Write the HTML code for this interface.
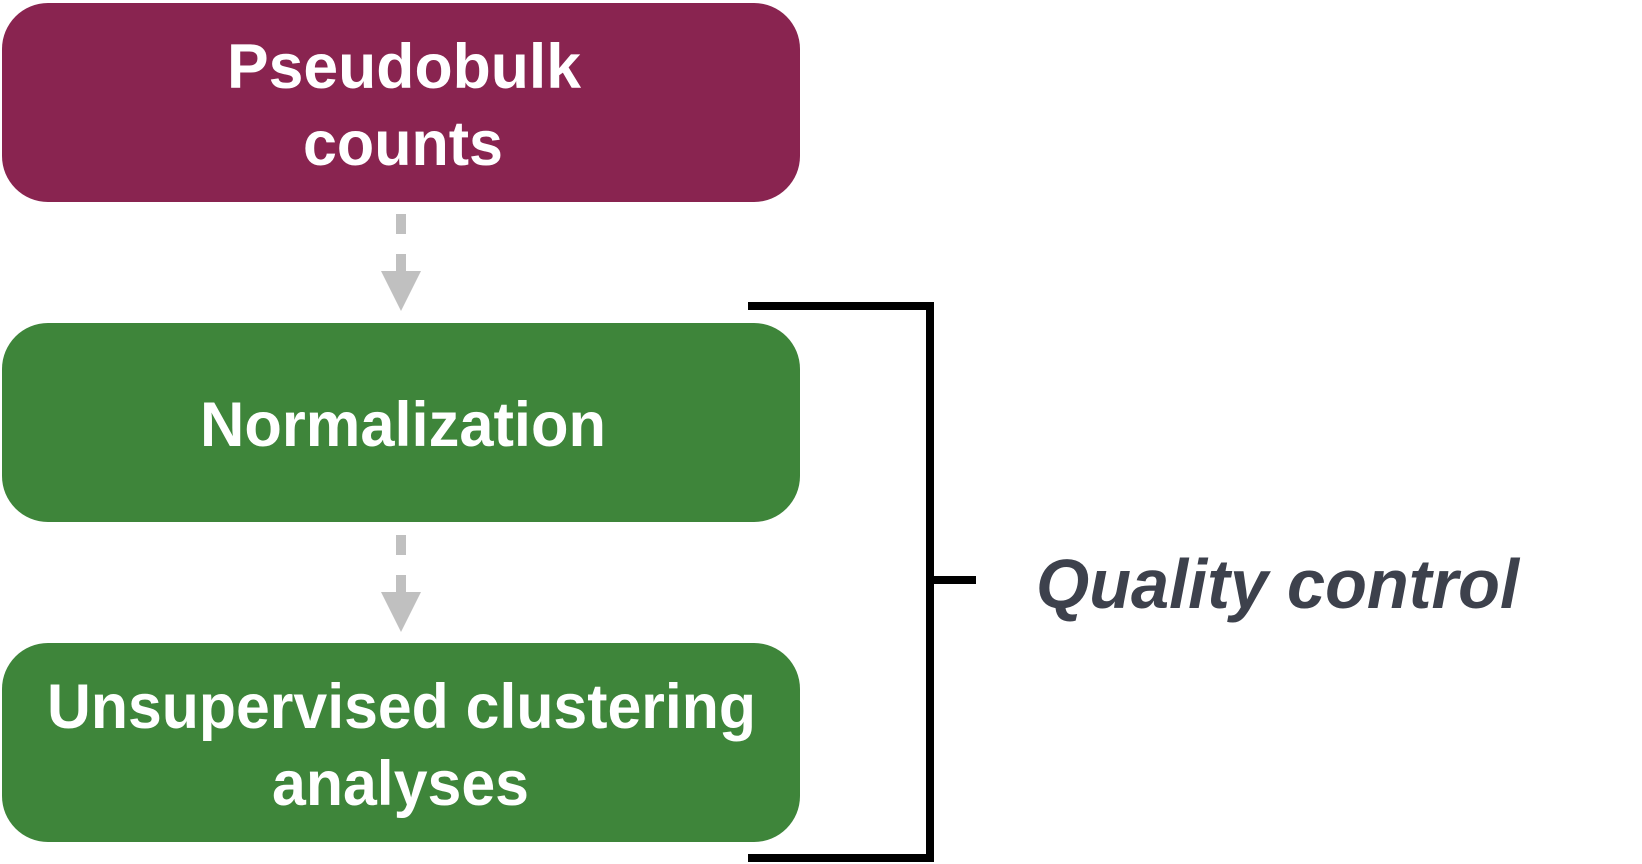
<!DOCTYPE html>
<html><head><meta charset="utf-8"><style>
html,body{margin:0;padding:0;background:#fff;}
svg{display:block;}
</style></head><body>
<svg width="1642" height="864" viewBox="0 0 1642 864" xmlns="http://www.w3.org/2000/svg">
<rect x="2" y="3" width="798" height="199" rx="46" fill="#892450"/>
<rect x="2" y="323" width="798" height="199" rx="46" fill="#3e853a"/>
<rect x="2" y="643" width="798" height="199" rx="46" fill="#3e853a"/>
<g fill="#c0c0c0">
<rect x="396" y="214" width="10" height="20"/>
<rect x="396" y="254" width="10" height="20"/>
<polygon points="381,271 421,271 401,311"/>
<rect x="396" y="535" width="10" height="20"/>
<rect x="396" y="575" width="10" height="20"/>
<polygon points="381,592 421,592 401,632"/>
</g>
<g fill="#000">
<rect x="748" y="302" width="186" height="8"/>
<rect x="926" y="302" width="8" height="560"/>
<rect x="748" y="854" width="186" height="8"/>
<rect x="926" y="576" width="50" height="8"/>
</g>
<g font-family="Liberation Sans, sans-serif" font-weight="bold" font-size="63" fill="#fff">
<text x="227" y="88" textLength="354" lengthAdjust="spacingAndGlyphs">Pseudobulk</text>
<text x="303" y="165" textLength="200" lengthAdjust="spacingAndGlyphs">counts</text>
<text x="200" y="446" textLength="406" lengthAdjust="spacingAndGlyphs">Normalization</text>
<text x="47" y="728" textLength="709" lengthAdjust="spacingAndGlyphs">Unsupervised clustering</text>
<text x="272" y="805" textLength="257" lengthAdjust="spacingAndGlyphs">analyses</text>
</g>
<text x="1036" y="608" font-family="Liberation Sans, sans-serif" font-weight="bold" font-style="italic" font-size="70" fill="#3d414c" textLength="483" lengthAdjust="spacingAndGlyphs">Quality control</text>
</svg>
</body></html>
